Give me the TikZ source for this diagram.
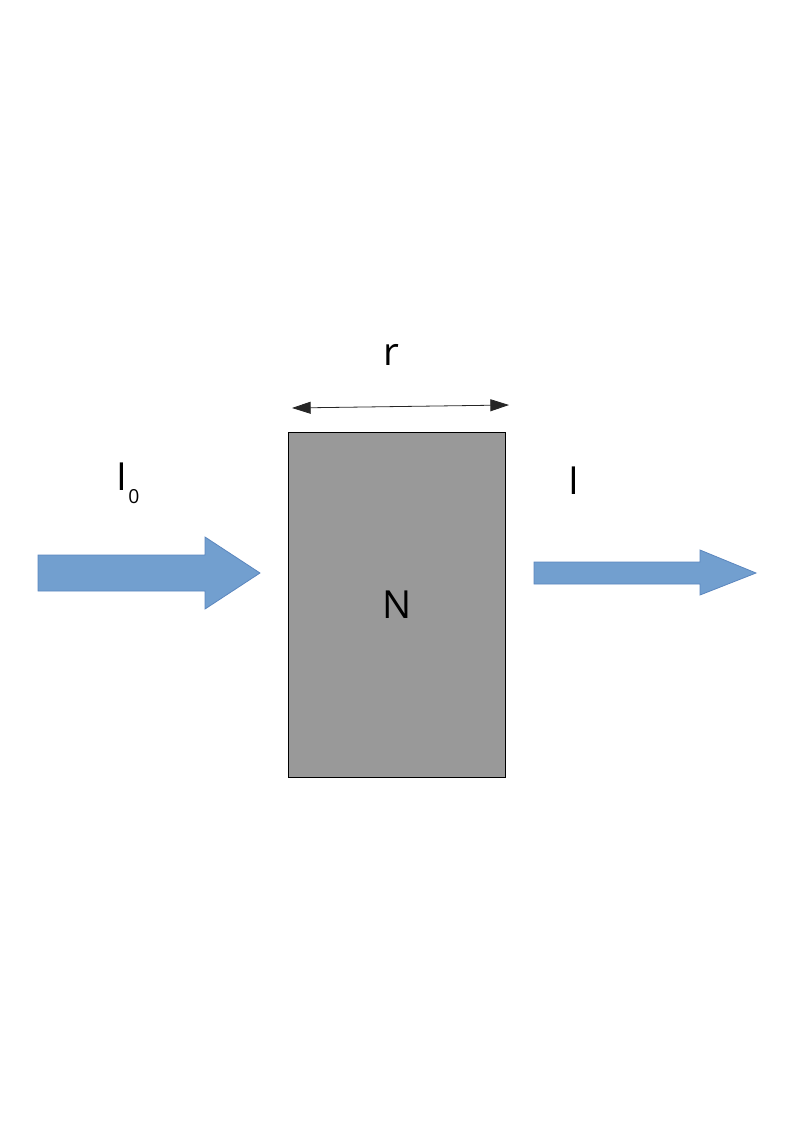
\documentclass[tikz,border=0pt]{standalone}
\usepackage{fontspec}
\setmainfont{Open Sans}
\usetikzlibrary{arrows.meta}
\definecolor{arrowblue}{HTML}{729FCF}
\definecolor{arrowedge}{HTML}{5B86BE}
\definecolor{slab}{HTML}{999999}
\tikzset{
  fatarrow/.style={fill=arrowblue, draw=arrowedge, line width=0.6pt, line join=miter},
  lbl/.style={font=\fontsize{29}{30}\selectfont, inner sep=0pt, anchor=base},
  dim/.style={draw=black!85, line width=0.6pt, {Triangle[length=14pt,width=9pt]}-{Triangle[length=14pt,width=9pt]}}
}
\begin{document}
\begin{tikzpicture}[x=0.75pt,y=-0.75pt]
\useasboundingbox (0,0) rectangle (794,1123);
% sample
\node[draw=black, line width=0.6pt, fill=slab, minimum width=217*0.75pt, minimum height=345*0.75pt, inner sep=0pt, anchor=north west] (sample) at (288,432) {};
\node[lbl] (N) at (397,618) {N};
% dimension arrow
\coordinate (dl) at (292,408);
\coordinate (dr) at (509,405);
\draw[dim] (dl) -- (dr);
\node[lbl] (r) at (391,365) {r};
% incoming arrow
\draw[fatarrow] (38,555) -- (205,555) -- (205,537) -- (260,573) -- (205,609) -- (205,591) -- (38,591) -- cycle;
\node[lbl, anchor=base west] (I0) at (116,490) {I\kern1pt\raisebox{-10pt}{\fontsize{14.5}{15}\selectfont 0}};
% outgoing arrow
\draw[fatarrow] (534,562) -- (700,562) -- (700,550) -- (756,573) -- (700,595) -- (700,584) -- (534,584) -- cycle;
\node[lbl] (I) at (574,494) {I};
\end{tikzpicture}
\end{document}
